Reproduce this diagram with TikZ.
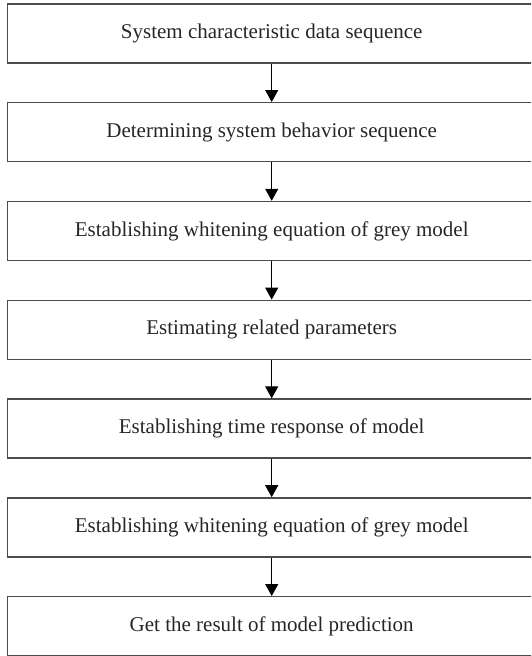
\documentclass[tikz,border=0pt]{standalone}
\usepackage{fontspec}
\setmainfont{Liberation Serif}
\usetikzlibrary{arrows.meta}
\begin{document}
\begin{tikzpicture}[x=1pt,y=-1pt,
  stepbox/.style={draw=black!70, line width=1.4pt, minimum width=529pt, minimum height=59pt,
    inner sep=0pt, font=\fontsize{21}{24}\selectfont, text=black!85, anchor=north west},
  flow/.style={draw=black, line width=1.1pt, -{Triangle[length=12pt,width=13pt]}}]
  \useasboundingbox (0,0) rectangle (531,656);
  \begin{scope}
  \clip (0,0) rectangle (531,656);
  \node[stepbox] (s1) at (6.5,3.2) {System characteristic data sequence};
  \node[stepbox] (s2) at (6.5,102) {Determining system behavior sequence};
  \node[stepbox] (s3) at (6.5,200.8) {Establishing whitening equation of grey model};
  \node[stepbox] (s4) at (6.5,299.6) {Estimating related parameters};
  \node[stepbox] (s5) at (6.5,398.4) {Establishing time response of model};
  \node[stepbox] (s6) at (6.5,497.2) {Establishing whitening equation of grey model};
  \node[stepbox] (s7) at (6.5,596) {Get the result of model prediction};
  \end{scope}
  \foreach \a/\b in {s1/s2,s2/s3,s3/s4,s4/s5,s5/s6,s6/s7}
    \draw[flow] (\a.south) -- (\b.north);
\end{tikzpicture}
\end{document}
